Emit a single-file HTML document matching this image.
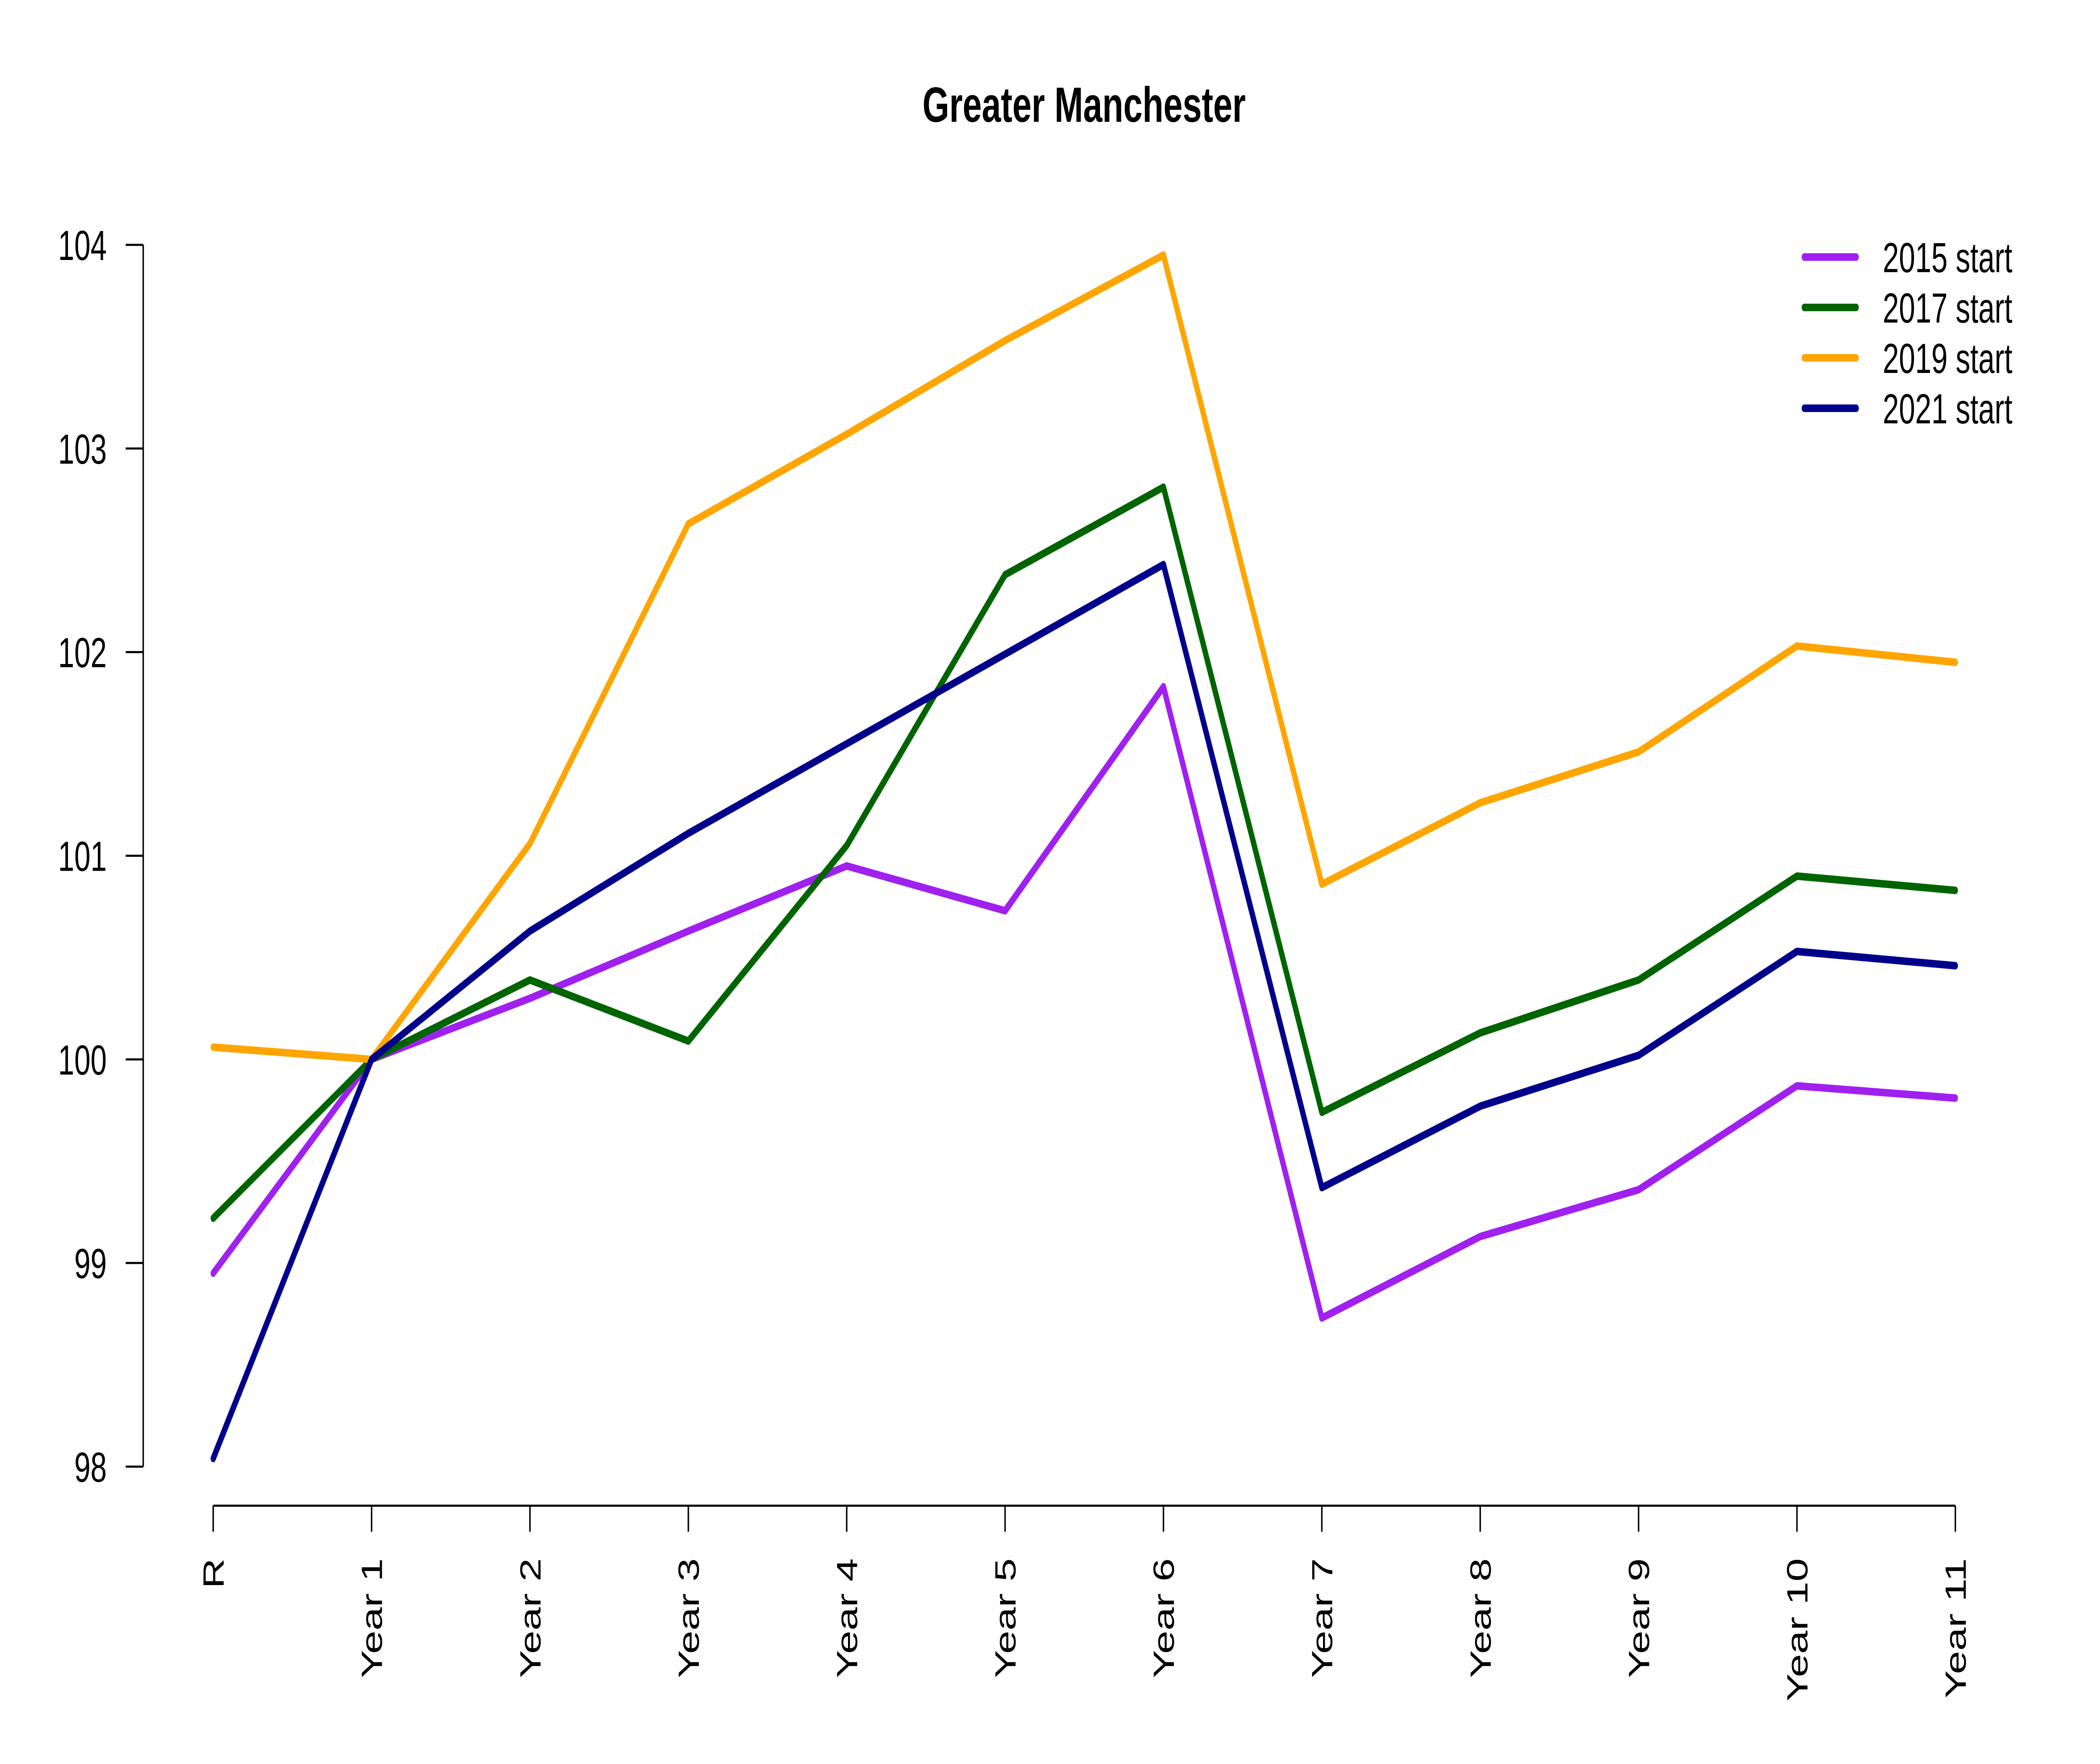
<!DOCTYPE html>
<html><head><meta charset="utf-8"><style>
html,body{margin:0;padding:0;background:#fff;overflow:hidden;width:100vw;height:100vh;}
svg{display:block;width:100vw;height:100vh;font-family:"Liberation Sans",Arial,sans-serif;}
</style></head><body>
<svg id="chart" viewBox="0 0 7200 4200" preserveAspectRatio="none" xmlns="http://www.w3.org/2000/svg">
<rect width="7200" height="4200" fill="#fff"/>
<text x="3717" y="290" text-anchor="middle" font-size="118" font-weight="bold">Greater Manchester</text>
<g id="axes"></g>
<g id="series"></g>
<g id="legend"></g>
</svg>
<script>
const categories = ["R","Year 1","Year 2","Year 3","Year 4","Year 5","Year 6","Year 7","Year 8","Year 9","Year 10","Year 11"];
const yTicks = [98,99,100,101,102,103,104];
const seriesNames = ["2015 start","2017 start","2019 start","2021 start"];
const seriesColors = ["#A020F0","#006400","#FFA500","#00008B"];
const s2015 = [98.95,100,100.30,100.63,100.95,100.73,101.83,98.73,99.13,99.36,99.87,99.81];
const s2017 = [99.22,100,100.39,100.09,101.05,102.38,102.81,99.74,100.13,100.39,100.90,100.83];
const s2019 = [100.06,100,101.06,102.63,103.07,103.53,103.95,100.86,101.26,101.51,102.03,101.95];
const s2021 = [98.04,100,100.63,101.11,101.55,101.99,102.43,99.37,99.77,100.02,100.53,100.46];
const allSeries = [s2015,s2017,s2019,s2021];

const NS="http://www.w3.org/2000/svg";
const x0=731, xStep=543, yTop=583, yBot=3492, vMin=98, vMax=104;
function xPos(i){return x0+i*xStep;}
function yPos(v){return yBot-(v-vMin)/(vMax-vMin)*(yBot-yTop);}
function mk(tag,attrs,parent){const e=document.createElementNS(NS,tag);for(const k in attrs)e.setAttribute(k,attrs[k]);parent.appendChild(e);return e;}

const axes=document.getElementById('axes');
let yl=mk('line',{x1:491,x2:491,y1:yPos(yTicks[0]),y2:yPos(yTicks[yTicks.length-1]),stroke:'#000','stroke-width':5},axes);


yTicks.forEach(t=>{
  const tk=mk('line',{x1:431,x2:491,y1:yPos(t),y2:yPos(t),stroke:'#000','stroke-width':5},axes);
  
  
  const tx=mk('text',{x:366,y:yPos(t)+36,'text-anchor':'end','font-size':100},axes);
  
  
  tx.textContent=t;
});
let xl=mk('line',{x1:xPos(0),x2:xPos(categories.length-1),y1:3585,y2:3585,stroke:'#000','stroke-width':5},axes);


categories.forEach((c,i)=>{
  const tk=mk('line',{x1:xPos(i),x2:xPos(i),y1:3585,y2:3647,stroke:'#000','stroke-width':5},axes);
  
  
  const tx=mk('text',{x:0,y:0,'text-anchor':'end','font-size':100,transform:`translate(${xPos(i)+36},3710) rotate(-90)`},axes);
  
  
  tx.textContent=c;
});
const sg=document.getElementById('series');
allSeries.forEach((vals,si)=>{
  const pts=vals.map((v,i)=>xPos(i)+','+yPos(v)).join(' ');
  const pl=mk('polyline',{points:pts,fill:'none',stroke:seriesColors[si],'stroke-width':18,'stroke-linejoin':'round','stroke-linecap':'round'},sg);
  
  
});
const lg=document.getElementById('legend');
seriesNames.forEach((n,si)=>{
  const y=612+si*120;
  const ln=mk('line',{x1:6186,x2:6364,y1:y,y2:y,stroke:seriesColors[si],'stroke-width':18,'stroke-linecap':'round'},lg);
  
  
  const tx=mk('text',{x:6455,y:y+36,'font-size':100},lg);
  
  
  tx.textContent=n;
});
</script>
</body></html>
